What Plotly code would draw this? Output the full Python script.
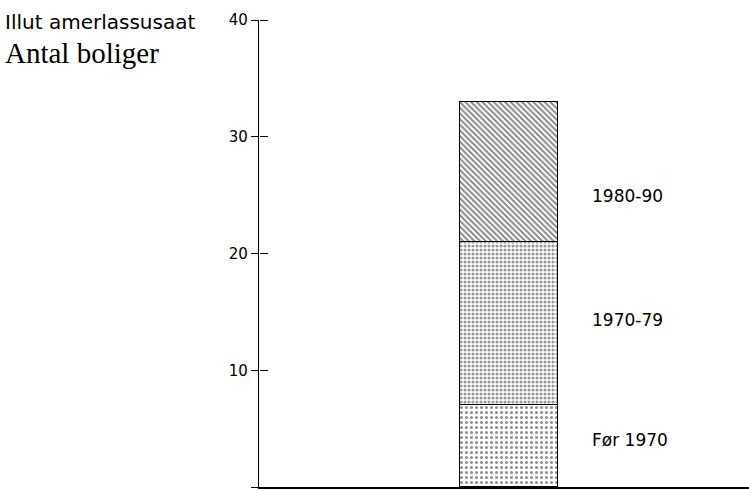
import plotly.graph_objects as go

# Dwellings by construction period, stacked in one column
periods = ["Før 1970", "1970-79", "1980-90"]
counts = [7, 14, 12]
y_ticks = [0, 10, 20, 30, 40]

# fill patterns per period (bottom to top)
patterns = [
    dict(shape=".", size=5, solidity=0.3, fgcolor="#222", bgcolor="white"),
    dict(shape=".", size=4, solidity=0.5, fgcolor="#333", bgcolor="white"),
    dict(shape="\\", size=4, solidity=0.5, fgcolor="#111", bgcolor="white"),
]
label_y = [4.0, 14.3, 24.9]

fig = go.Figure()
for name, val, pat in zip(periods, counts, patterns):
    fig.add_trace(go.Bar(
        x=[0], y=[val], name=name, width=1,
        marker=dict(color="white", pattern=pat,
                    line=dict(color="black", width=1.5)),
        showlegend=False, hoverinfo="skip",
    ))

# crossing tick marks: right half drawn by an overlaid axis
fig.add_trace(go.Scatter(x=[0], y=[0], yaxis="y2", mode="markers",
                         marker=dict(opacity=0), showlegend=False,
                         hoverinfo="skip"))

for name, yv in zip(periods, label_y):
    fig.add_annotation(x=0.83, y=yv, xref="x", yref="y", text=name,
                       showarrow=False, xanchor="left",
                       font=dict(family="DejaVu Sans", size=17,
                                 color="black"))

fig.add_annotation(x=-0.522, y=0.996, xref="paper", yref="paper",
                   text="Illut amerlassusaat", showarrow=False,
                   xanchor="left", yanchor="middle",
                   font=dict(family="DejaVu Sans", size=20,
                             color="black"))
fig.add_annotation(x=-0.522, y=0.93, xref="paper", yref="paper",
                   text="Antal boliger", showarrow=False,
                   xanchor="left", yanchor="middle",
                   font=dict(family="Liberation Serif, Times New Roman",
                             size=29, color="black"))

fig.update_layout(
    width=749, height=492,
    margin=dict(l=259, r=0, t=20, b=5),
    paper_bgcolor="white", plot_bgcolor="white",
    barmode="stack", bargap=0,
    xaxis=dict(range=[-2.55, 2.45], showgrid=False, zeroline=False,
               showticklabels=False, ticks="", showline=True,
               linecolor="black", linewidth=2, fixedrange=True),
    yaxis=dict(range=[0, 40], tickvals=y_ticks, showgrid=False,
               zeroline=False, showline=True, linecolor="black",
               linewidth=1.2, ticks="outside", ticklen=7, tickwidth=1.2,
               tickcolor="black",
               tickfont=dict(family="DejaVu Sans", size=15,
                             color="black")),
    yaxis2=dict(range=[0, 40], overlaying="y", side="right",
                anchor="free", position=0, tickvals=y_ticks,
                showticklabels=False, ticks="outside", ticklen=8,
                tickwidth=1.2, tickcolor="black", showgrid=False,
                zeroline=False, showline=False),
)

fig.write_html("out.html")
